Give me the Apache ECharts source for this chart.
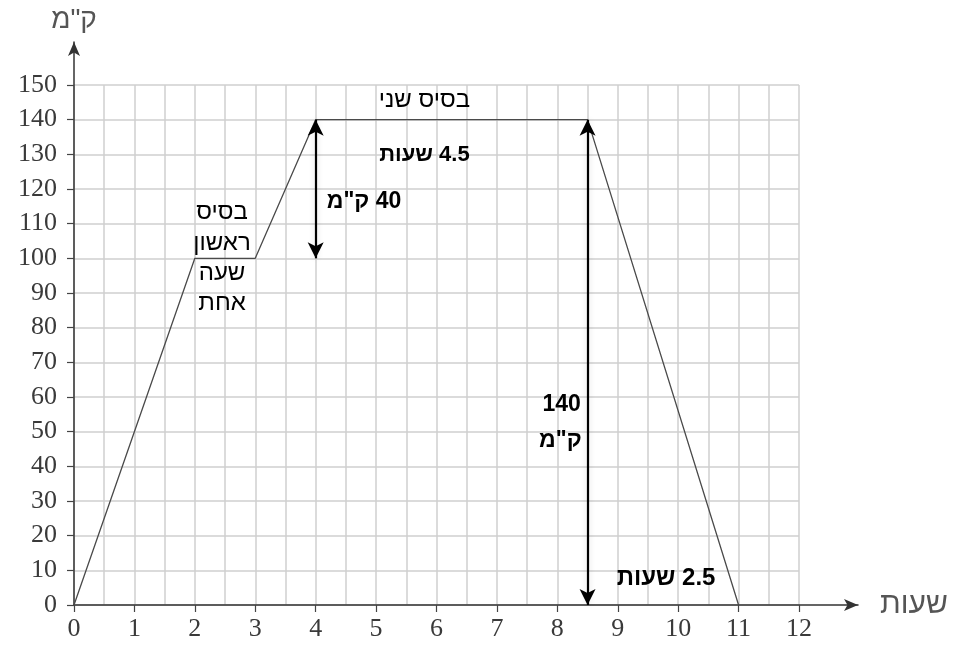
<!DOCTYPE html>
<html>
<head>
<meta charset="utf-8">
<script src="https://cdn.jsdelivr.net/npm/echarts@6/dist/echarts.min.js"></script>
<style>
html,body{margin:0;padding:0;background:#fff;}
#c{width:961px;height:647px;}
</style>
</head>
<body>
<div id="c" dir="rtl"></div>
<script>
// Data
const hours = [0, 2, 3, 4, 8.5, 11];
const distance = [0, 100, 100, 140, 140, 0];
const xTicks = [0,1,2,3,4,5,6,7,8,9,10,11,12];
const yTicks = [0,10,20,30,40,50,60,70,80,90,100,110,120,130,140,150];
const arrowSegments = [
  [[4, 140], [4, 100]],
  [[8.5, 140], [8.5, 0]]
];
const annotationText = ['בסיס שני', '4.5 שעות', '40 ק"מ', 'בסיס', 'ראשון', 'שעה', 'אחת', '140', 'ק"מ', '2.5 שעות'];
const annotationX = [5.8, 5.8, 4.8, 2.45, 2.45, 2.45, 2.45, 8.07, 8.05, 9.8];
const annotationY = [145.7, 129.8, 116.3, 113.4, 104.4, 95.8, 87.1, 57.7, 47.3, 7.8];
const yAxisName = 'ק"מ';
const xAxisName = 'שעות';

// styles for annotations (index-aligned with annotationText)
const annoStyle = [
  {w: 'normal', s: 24}, {w: 'bold', s: 22}, {w: 'bold', s: 23},
  {w: 'normal', s: 24}, {w: 'normal', s: 24}, {w: 'normal', s: 24}, {w: 'normal', s: 24},
  {w: 'bold', s: 23}, {w: 'bold', s: 23}, {w: 'bold', s: 24}
];

const chart = echarts.init(document.getElementById('c'));
const serif = '"Liberation Serif", "DejaVu Serif", serif';
const sans = '"Liberation Sans", Arial, sans-serif';

const option = {
  backgroundColor: '#fff',
  animation: false,
  grid: [
    {left: 74, right: 162, top: 85, bottom: 42},
    {left: 74, right: 103, top: 42, bottom: 42}
  ],
  xAxis: [
    {
      gridIndex: 0, type: 'value', min: xTicks[0], max: xTicks[xTicks.length-1], interval: 1,
      axisLine: {show: false},
      axisTick: {show: true, inside: false, length: 7, lineStyle: {color: '#444', width: 1.2}},
      axisLabel: {show: true, margin: 11, fontFamily: serif, fontSize: 26, color: '#3a3a3a'},
      splitLine: {show: true, lineStyle: {color: '#cfcfcf', width: 1.5}},
      minorTick: {show: false, splitNumber: 2},
      minorSplitLine: {show: true, lineStyle: {color: '#cfcfcf', width: 1.5}}
    },
    {
      gridIndex: 1, type: 'value', min: 0, max: 13,
      axisLine: {show: true, onZero: false, lineStyle: {color: '#333', width: 1.5}, symbol: ['none', 'arrow'], symbolSize: [9, 14]},
      axisTick: {show: false}, axisLabel: {show: false}, splitLine: {show: false},
      name: xAxisName, nameLocation: 'end', nameGap: 22,
      nameTextStyle: {fontFamily: sans, fontSize: 30, color: '#555', verticalAlign: 'middle'}
    }
  ],
  yAxis: [
    {
      gridIndex: 0, type: 'value', min: yTicks[0], max: yTicks[yTicks.length-1], interval: 10,
      axisLine: {show: false},
      axisTick: {show: true, inside: false, length: 7, lineStyle: {color: '#444', width: 1.2}},
      axisLabel: {show: true, margin: 17, fontFamily: serif, fontSize: 26, color: '#3a3a3a'},
      splitLine: {show: true, lineStyle: {color: '#cfcfcf', width: 1.5}}
    },
    {
      gridIndex: 1, type: 'value', min: 0, max: 162.4,
      axisLine: {show: true, onZero: false, lineStyle: {color: '#333', width: 1.5}, symbol: ['none', 'arrow'], symbolSize: [9, 14]},
      axisTick: {show: false}, axisLabel: {show: false}, splitLine: {show: false},
      name: yAxisName, nameLocation: 'end', nameGap: 8,
      nameTextStyle: {fontFamily: sans, fontSize: 28, color: '#555', align: 'center'}
    }
  ],
  series: [
    {
      type: 'line', xAxisIndex: 0, yAxisIndex: 0,
      data: hours.map((h, i) => [h, distance[i]]),
      showSymbol: false, symbol: 'none',
      lineStyle: {color: '#4a4a4a', width: 1.3},
      markLine: {
        silent: true,
        symbol: ['arrow', 'arrow'],
        symbolSize: [12, 16],
        label: {show: false},
        lineStyle: {color: '#000', width: 2.2, type: 'solid', shadowColor: 'rgba(0,0,0,0.15)', shadowBlur: 6},
        data: arrowSegments.map(seg => [{coord: seg[0]}, {coord: seg[1]}])
      }
    },
    {
      type: 'scatter', xAxisIndex: 0, yAxisIndex: 0,
      symbolSize: 0, silent: true,
      itemStyle: {color: '#000'},
      data: annotationText.map((t, i) => ({
        name: t, value: [annotationX[i], annotationY[i]],
        label: {fontWeight: annoStyle[i].w, fontSize: annoStyle[i].s, color: '#000'}
      })),
      label: {
        show: true, position: 'inside', formatter: '{b}',
        fontFamily: sans, color: '#000', textBorderWidth: 0, opacity: 1
      }
    }
  ]
};
chart.setOption(option);
</script>
</body>
</html>
